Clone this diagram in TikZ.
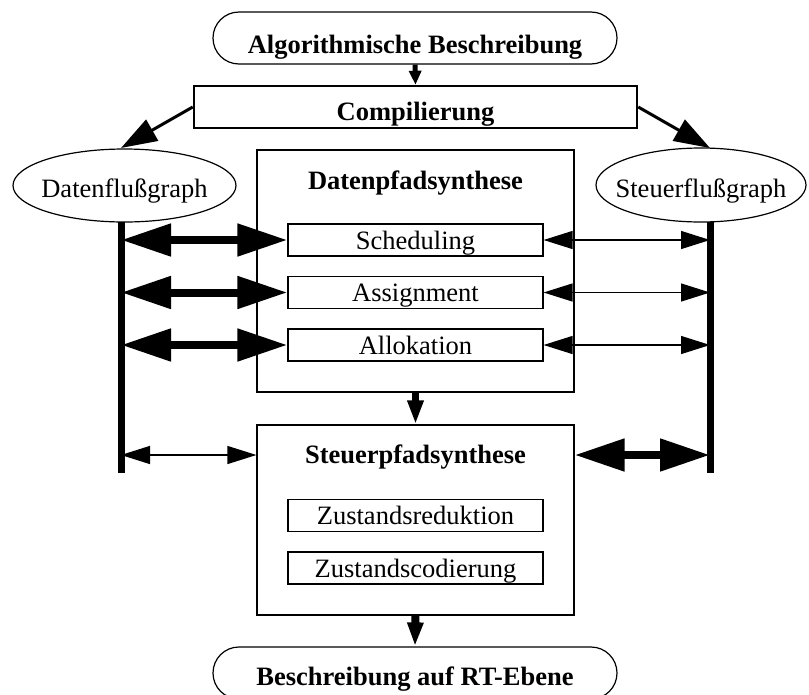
\documentclass[tikz,border=0pt]{standalone}
\usepackage{fontspec}
\setmainfont{Liberation Serif}
\usetikzlibrary{arrows.meta,shapes.geometric}

\begin{document}
\begin{tikzpicture}[x=1pt,y=-1pt,
  txt/.style={font=\fontsize{26.5}{30}\selectfont, inner sep=0pt, anchor=base},
  btxt/.style={txt, font=\fontsize{26.5}{30}\selectfont\bfseries},
  pill/.style={draw, line width=1.2pt, rounded corners=26pt,
    minimum width=404pt, minimum height=52pt, inner sep=0pt},
  compbox/.style={draw, line width=2.5pt, minimum width=443pt,
    minimum height=42pt, inner sep=0pt},
  bigbox/.style={draw, line width=1.2pt, minimum width=317pt, inner sep=0pt},
  subbox/.style={draw, line width=1.2pt, minimum width=255pt,
    minimum height=32pt, inner sep=0pt},
  oval/.style={draw, ellipse, line width=1.2pt, inner sep=0pt},
  bar/.style={line width=7pt},
  fatlink/.style={line width=8pt,
    {Triangle[length=50pt,width=31pt]}-{Triangle[length=50pt,width=31pt]}},
  thinlink/.style={line width=1.3pt,
    {Triangle[length=29pt,width=18pt]}-{Triangle[length=29pt,width=18pt]}},
  flow/.style={line width=#1, -{Triangle[length=24pt,width=15pt]}},
  fork/.style={line width=3pt, -{Triangle[length=36pt,width=24pt]}},
]
\useasboundingbox (0,0) rectangle (809,694);

% input and compilation
\node[pill] (alg) at (415,38) {};
\node[btxt] (algtext) at (415,53) {Algorithmische Beschreibung};
\node[compbox] (comp) at (415.5,107) {};
\node[btxt] (comptext) at (415.5,120) {Compilierung};

% flow graphs
\node[oval, minimum width=223pt, minimum height=73pt] (dfg) at (124.5,185.5) {};
\node[txt] (dfgtext) at (124.5,197) {Datenflußgraph};
\node[oval, minimum width=210pt, minimum height=74pt] (sfg) at (701,185) {};
\node[txt] (sfgtext) at (701,197) {Steuerflußgraph};

\coordinate (dtop) at (121,148);
\coordinate (stop) at (710,148);
\draw[fork] (comp.west) -- (dtop);
\draw[fork] (comp.east) -- (stop);

% graph rails
\coordinate (dl1) at (121,222);
\coordinate (dl2) at (121,473);
\coordinate (sl1) at (710,222);
\coordinate (sl2) at (710,473);
\draw[bar] (dl1) -- (dl2);
\draw[bar] (sl1) -- (sl2);

% data path synthesis
\node[bigbox, minimum height=242pt] (dp) at (415.5,271) {};
\node[btxt] (dptext) at (415.5,189) {Datenpfadsynthese};
\node[subbox] (sch) at (415.5,240) {};
\node[txt] (schtext) at (415.5,249) {Scheduling};
\node[subbox] (asg) at (415.5,292.5) {};
\node[txt] (asgtext) at (415.5,301.5) {Assignment};
\node[subbox] (alo) at (415.5,345) {};
\node[txt] (alotext) at (415.5,354) {Allokation};

% control path synthesis
\node[bigbox, minimum height=190pt] (cp) at (415.5,520) {};
\node[btxt] (cptext) at (415.5,463) {Steuerpfadsynthese};
\node[subbox] (zr) at (415.5,515.5) {};
\node[txt] (zrtext) at (415.5,524.5) {Zustandsreduktion};
\node[subbox] (zc) at (415.5,568) {};
\node[txt] (zctext) at (415.5,577) {Zustandscodierung};

% output
\node[pill] (rt) at (415,673) {};
\node[btxt] (rttext) at (415,685) {Beschreibung auf RT-Ebene};

% vertical flow
\draw[line width=5pt, -{Triangle[length=14pt,width=12pt]}] (alg.south) -- (comp.north);
\draw[flow=7pt] (dp.south) -- (cp.north);
\draw[flow=8pt] (cp.south) -- (rt.north);

% links to the data flow graph
\coordinate (d1) at (121,240);
\coordinate (d2) at (121,292.5);
\coordinate (d3) at (121,345);
\coordinate (d4) at (121,455);
\draw[fatlink] (d1) -- (sch.west);
\draw[fatlink] (d2) -- (asg.west);
\draw[fatlink] (d3) -- (alo.west);
\draw[thinlink] (d4) -- (cp.west |- d4);

% links to the control flow graph
\coordinate (s1) at (710,240);
\coordinate (s2) at (710,292.5);
\coordinate (s3) at (710,345);
\coordinate (s4) at (710,455);
\draw[thinlink] (sch.east) -- (s1);
\draw[thinlink] (asg.east) -- (s2);
\draw[thinlink] (alo.east) -- (s3);
\draw[fatlink] (cp.east |- s4) -- (s4);
\end{tikzpicture}
\end{document}
